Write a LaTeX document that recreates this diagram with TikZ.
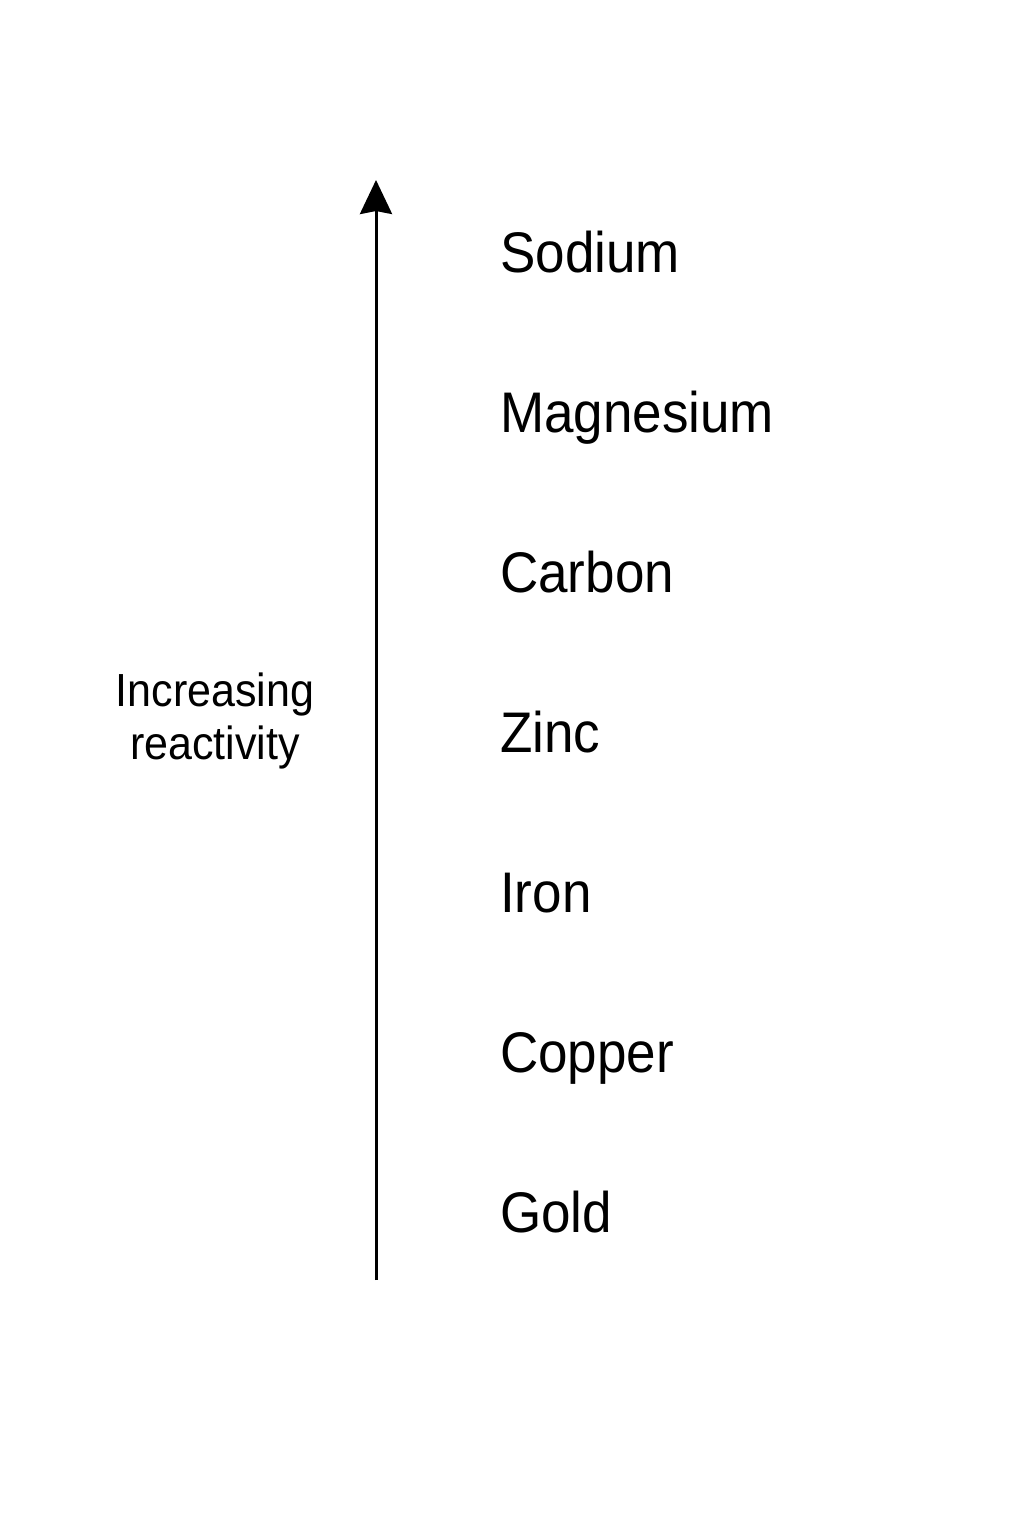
\documentclass[tikz,border=0pt]{standalone}
\usepackage{fontspec}
\setmainfont{Liberation Sans}
\usetikzlibrary{arrows.meta}
\tikzset{
  metal/.style={anchor=base west, inner sep=0pt, font=\fontsize{53}{60}\selectfont},
  axislabel/.style={anchor=base, inner sep=0pt, font=\fontsize{43}{48}\selectfont},
  axis/.style={line width=3pt, -{Stealth[width=32pt,length=34pt,inset=3pt]}}
}
\newcommand{\tallish}[1]{\scalebox{1}[1.08]{#1}}
\begin{document}
\begin{tikzpicture}[x=1pt,y=-1pt]
\fill[white] (0,0) rectangle (1024,1536);
\useasboundingbox (0,0) rectangle (1024,1536);
\coordinate (bottom) at (376,1280);
\coordinate (top) at (376,180);
\draw[axis] (bottom) -- (top);
\node[metal] (sodium) at (500,272) {\tallish{Sodium}};
\node[metal] (magnesium) at (500,432) {\tallish{Magnesium}};
\node[metal] (carbon) at (500,592) {\tallish{Carbon}};
\node[metal] (zinc) at (500,752) {\tallish{Zinc}};
\node[metal] (iron) at (500,912) {\tallish{Iron}};
\node[metal] (copper) at (500,1072) {\tallish{Copper}};
\node[metal] (gold) at (500,1232) {\tallish{Gold}};
\node[axislabel] (inc) at (215,706) {\tallish{Increasing}};
\node[axislabel] (react) at (215,759) {\tallish{reactivity}};
\end{tikzpicture}
\end{document}
